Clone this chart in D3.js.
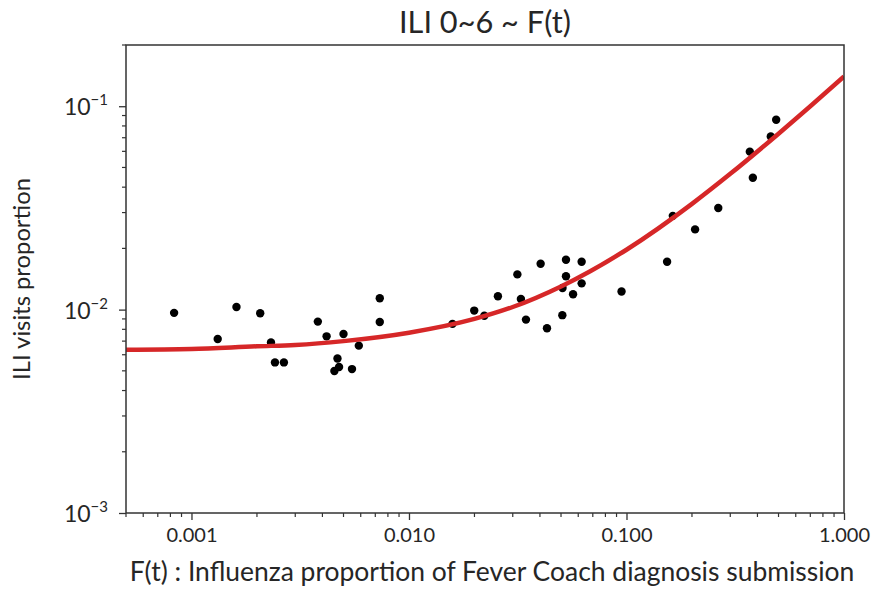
<!DOCTYPE html>
<html><head><meta charset="utf-8">
<script src="https://cdn.jsdelivr.net/npm/d3@7"></script>
<style>
html,body{margin:0;padding:0;background:#fff;}
svg text{font-family:Lato,"Open Sans",sans-serif;fill:#262626;}
</style></head>
<body>
<svg id="chart" width="871" height="590"></svg>
<script>
// ---- data ----
const title = "ILI 0~6 ~ F(t)";
const xLabel = "F(t) : Influenza proportion of Fever Coach diagnosis submission";
const yLabel = "ILI visits proportion";
const xDomain = [0.0005, 1];
const yDomain = [0.001, 0.2];
const xTickValues = [0.001, 0.01, 0.1, 1];
const xTickLabels = ["0.001", "0.010", "0.100", "1.000"];
const yTickValues = [0.001, 0.01, 0.1];
const yTickExps = ["\u22123", "\u22122", "\u22121"];

// observed points
const pointX = [0.000832,0.00132,0.00161,0.00207,0.00232,0.00242,0.00266,0.00381,0.00418,0.00500,
  0.00588,0.00469,0.00477,0.00454,0.00547,0.00734,0.00734,0.01585,0.01995,0.0222,
  0.02564,0.0315,0.0327,0.0345,0.0403,0.0431,0.0507,0.0527,0.0527,0.0508,
  0.0568,0.0622,0.0622,0.0949,0.1537,0.1633,0.2067,0.2642,0.369,0.381,0.4607,0.4877];
const pointY = [0.00964,0.00717,0.0103,0.00959,0.0069,0.0055,0.0055,0.00873,0.00739,0.00759,
  0.00665,0.00575,0.00522,0.00499,0.00510,0.01137,0.00869,0.00851,0.00989,0.00933,
  0.01163,0.0149,0.01127,0.00893,0.0168,0.0081,0.00939,0.0176,0.01458,0.01277,
  0.0119,0.0172,0.01346,0.01227,0.0172,0.0289,0.0248,0.0316,0.0598,0.0445,0.0710,0.0858];

// fitted curve, read at sample positions
const fitX = [0.0005,0.001,0.002,0.003,0.005,0.01,0.02,0.03,0.05,0.1,0.2,0.3,0.5,0.7,1];
const fitY = [0.00635,0.0064,0.0066,0.0067,0.0070,0.0077,0.0090,0.0103,0.0130,0.0197,0.0331,0.0465,0.0733,0.100,0.140];

// ---- layout ----
const svg = d3.select("#chart");
const L = 126, R = 844, T = 45, B = 513;
const x = d3.scaleLog().domain(xDomain).range([L, R]);
const y = d3.scaleLog().domain(yDomain).range([B, T]);
const axisColor = "#333";

function fitFont(sel, targetW, base) {
  sel.style("font-size", base + "px");
  const w = sel.node().getComputedTextLength();
  sel.style("font-size", (base * targetW / w).toFixed(2) + "px");
}

// minor ticks
const xMinor = [];
for (let e = -4; e <= 0; e++) for (let m = 1; m <= 9; m++) {
  const v = m * Math.pow(10, e);
  if (v >= xDomain[0] * 0.999 && v <= xDomain[1] * 1.001 && m !== 1) xMinor.push(v);
}
const yMinor = [];
for (let e = -3; e <= -1; e++) for (let m = 2; m <= 9; m++) {
  const v = m * Math.pow(10, e);
  if (v <= yDomain[1] * 1.001) yMinor.push(v);
}

// x axis
const gx = svg.append("g").attr("transform", `translate(0,${B})`);
gx.call(d3.axisBottom(x).tickValues(xTickValues).tickFormat((d, i) => xTickLabels[i]).tickSize(7).tickPadding(8));
gx.select(".domain").remove();
gx.selectAll(".tick line").attr("stroke", axisColor).attr("stroke-width", 1.3);
gx.selectAll(".tick text").attr("fill", "#333").style("font-family", "Lato, sans-serif").style("font-size", "20px");
gx.selectAll(".minor").data(xMinor).enter().append("line")
  .attr("x1", d => x(d)).attr("x2", d => x(d)).attr("y1", 0).attr("y2", 4)
  .attr("stroke", axisColor).attr("stroke-width", 1.2);

// y axis
const gy = svg.append("g").attr("transform", `translate(${L},0)`);
gy.call(d3.axisLeft(y).tickValues(yTickValues).tickFormat("").tickSize(7));
gy.select(".domain").remove();
gy.selectAll(".tick line").attr("stroke", axisColor).attr("stroke-width", 1.3);
gy.selectAll(".minor").data(yMinor).enter().append("line")
  .attr("x1", 0).attr("x2", -4).attr("y1", d => y(d)).attr("y2", d => y(d))
  .attr("stroke", axisColor).attr("stroke-width", 1.2);
yTickValues.forEach((v, i) => {
  const t = gy.append("text").attr("x", -18).attr("y", y(v) + 9)
    .attr("text-anchor", "end").attr("fill", "#333").style("font-size", "23px");
  t.append("tspan").text("10");
  t.append("tspan").attr("dy", -10).style("font-size", "15px").text(yTickExps[i]);
});

// points
svg.append("g").selectAll("circle").data(pointX.map((d, i) => [d, pointY[i]]))
  .enter().append("circle")
  .attr("cx", d => x(d[0])).attr("cy", d => y(d[1])).attr("r", 4.2)
  .attr("fill", "#000");

// fitted curve
const clip = svg.append("clipPath").attr("id", "clip").append("rect")
  .attr("x", L).attr("y", T).attr("width", R - L).attr("height", B - T);
const line = d3.line().x(d => x(d[0])).y(d => y(d[1])).curve(d3.curveMonotoneX);
svg.append("path").datum(fitX.map((d, i) => [d, fitY[i]]))
  .attr("d", line).attr("fill", "none").attr("stroke", "#d62728")
  .attr("stroke-width", 4.5).attr("clip-path", "url(#clip)");

// frame
svg.append("rect").attr("x", L).attr("y", T).attr("width", R - L).attr("height", B - T)
  .attr("fill", "none").attr("stroke", axisColor).attr("stroke-width", 1.5);

// title & labels
const tt = svg.append("text").attr("x", (L + R) / 2).attr("y", 33).attr("text-anchor", "middle").text(title);
fitFont(tt, 172, 21);
const xl = svg.append("text").attr("x", 492).attr("y", 581).attr("text-anchor", "middle").text(xLabel);
fitFont(xl, 725, 21);
const yl = svg.append("text").attr("transform", `translate(30,${(T + B) / 2}) rotate(-90)`)
  .attr("text-anchor", "middle").text(yLabel);
fitFont(yl, 202, 21);
</script>
</body></html>
